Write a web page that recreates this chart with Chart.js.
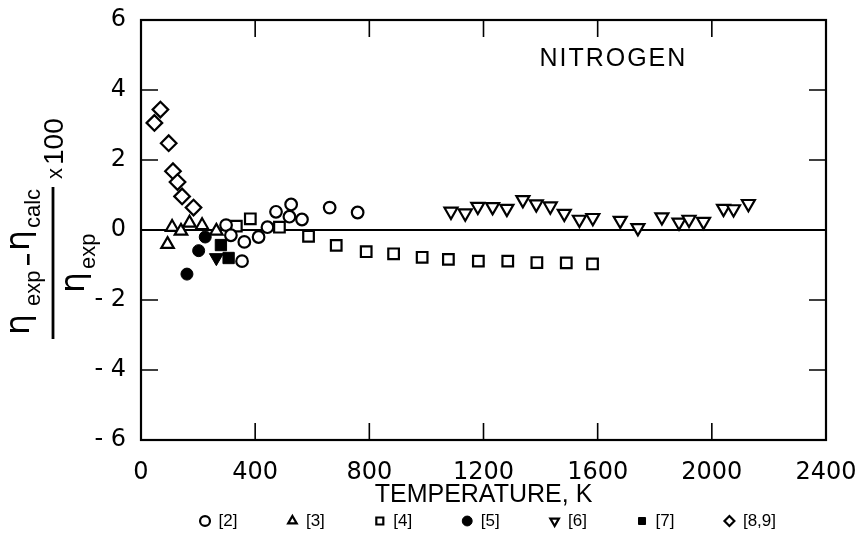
<!DOCTYPE html>
<html><head><meta charset="utf-8">
<script src="https://cdn.jsdelivr.net/npm/chart.js@4.4.0/dist/chart.umd.min.js"></script>
<style>html,body{margin:0;padding:0;background:#fff;} #wrap{width:859px;height:546px;}</style>
</head><body><div id="wrap"><canvas id="c" width="859" height="546"></canvas></div>
<script>
// ---- data ----
const xTicks = [0, 400, 800, 1200, 1600, 2000, 2400];
const xTickLabels = ['0', '400', '800', '1200', '1600', '2000', '2400'];
const yTicks = [-6, -4, -2, 0, 2, 4, 6];
const yTickLabels = ['- 6', '- 4', '- 2', '0', '2', '4', '6'];
const xTitle = 'TEMPERATURE, K';
const gasName = 'NITROGEN';
const seriesLabels = ['[2]', '[3]', '[4]', '[5]', '[6]', '[7]', '[8,9]'];

const ref2T = [298, 315, 354, 362, 412, 443, 473, 520, 526, 564, 661, 759];
const ref2D = [0.14, -0.15, -0.89, -0.34, -0.20, 0.08, 0.52, 0.38, 0.73, 0.30, 0.64, 0.50];

const ref3T = [93, 109, 140, 170, 214, 264];
const ref3D = [-0.41, 0.08, -0.03, 0.20, 0.13, -0.03];

const ref4T = [334, 383, 485, 587, 684, 789, 885, 985, 1077, 1182, 1285, 1387, 1490, 1582];
const ref4D = [0.11, 0.32, 0.08, -0.18, -0.44, -0.62, -0.68, -0.78, -0.84, -0.89, -0.89, -0.93, -0.94, -0.97];

const ref5T = [161, 202, 225];
const ref5D = [-1.26, -0.59, -0.20];

const ref6T = [1086, 1136, 1180, 1232, 1282, 1338, 1385, 1434, 1483, 1536, 1583, 1679, 1741, 1825, 1885, 1920, 1971, 2041, 2076, 2128];
const ref6D = [0.53, 0.48, 0.67, 0.66, 0.61, 0.86, 0.74, 0.68, 0.47, 0.30, 0.35, 0.27, 0.06, 0.37, 0.22, 0.30, 0.24, 0.61, 0.60, 0.75];

const ref7T = [280, 307, 264];
const ref7D = [-0.43, -0.80, -0.79];
const ref7Marks = ['rect', 'rect', 'triangle'];
const ref7Rot = [0, 0, 180];

const ref89T = [47, 68, 97, 112, 128, 144, 184];
const ref89D = [3.06, 3.44, 2.48, 1.68, 1.37, 0.96, 0.64];

const pts = (xs, ys) => xs.map((x, i) => ({ x: x, y: ys[i] }));

const frame = {
  id: 'frame',
  afterLayout(c) {
    // place the legend row under the axis title
    if (c.legend) { c.legend.top = 462.5; c.legend.bottom = 546; }
  },
  beforeDraw(c) {
    const ctx = c.ctx; ctx.save(); ctx.fillStyle = '#fff'; ctx.fillRect(0, 0, c.width, c.height); ctx.restore();
  },
  beforeDatasetsDraw(c) {
    const ctx = c.ctx, a = c.chartArea, ys = c.scales.y;
    const y0 = ys.getPixelForValue(0);
    ctx.save(); ctx.strokeStyle = '#000'; ctx.lineWidth = 1.8;
    ctx.beginPath(); ctx.moveTo(a.left, y0); ctx.lineTo(a.right, y0); ctx.stroke(); ctx.restore();
  },
  afterDatasetsDraw(c) {
    const ctx = c.ctx, a = c.chartArea, xs = c.scales.x, ys = c.scales.y;
    ctx.save();
    ctx.strokeStyle = '#000'; ctx.lineWidth = 2.2;
    ctx.strokeRect(a.left, a.top, a.right - a.left, a.bottom - a.top);
    ctx.lineWidth = 1.6;
    const L = 17;
    ctx.beginPath();
    xTicks.slice(1, -1).forEach(v => {
      const px = xs.getPixelForValue(v);
      ctx.moveTo(px, a.bottom); ctx.lineTo(px, a.bottom - L);
      ctx.moveTo(px, a.top); ctx.lineTo(px, a.top + L);
    });
    yTicks.slice(1, -1).forEach(v => {
      const py = ys.getPixelForValue(v);
      ctx.moveTo(a.left, py); ctx.lineTo(a.left + L, py);
      ctx.moveTo(a.right, py); ctx.lineTo(a.right - L, py);
    });
    ctx.stroke();
    // gas name
    ctx.fillStyle = '#000';
    ctx.font = '25px "Liberation Sans"';
    if ('letterSpacing' in ctx) ctx.letterSpacing = '2px';
    ctx.textAlign = 'center'; ctx.textBaseline = 'middle';
    ctx.fillText(gasName, xs.getPixelForValue(1655), ys.getPixelForValue(4.88));
    if ('letterSpacing' in ctx) ctx.letterSpacing = '0px';
    ctx.restore();

    // y-axis title (fraction), rotated
    ctx.save();
    ctx.translate(53, 265);
    ctx.rotate(-Math.PI / 2);
    ctx.fillStyle = '#000';
    ctx.textAlign = 'left'; ctx.textBaseline = 'alphabetic';
    const big = '33px "DejaVu Sans"', small = '22px "Liberation Sans"';
    // numerator
    ctx.font = big; ctx.fillText('\u03B7', -70, -24);
    ctx.font = small; ctx.fillText('exp', -41, -13);
    ctx.fillRect(0, -26, 11, 2.6);
    ctx.font = big; ctx.fillText('\u03B7', 14, -24);
    ctx.font = small; ctx.fillText('calc', 37, -13);
    // bar
    ctx.fillRect(-74, -1.4, 152, 2.8);
    // denominator
    ctx.font = big; ctx.fillText('\u03B7', -28, 31);
    ctx.font = small; ctx.fillText('exp', -4, 42);
    // x 100
    ctx.font = '22px "Liberation Sans"'; ctx.fillText('x', 86, 9);
    ctx.font = '28px "Liberation Sans"'; ctx.fillText('100', 100, 10);
    ctx.restore();
  }
};

const openStyle = { borderColor: '#000', backgroundColor: '#fff', borderWidth: 2.2 };
const fillStyle = { borderColor: '#000', backgroundColor: '#000', borderWidth: 1 };

new Chart(document.getElementById('c'), {
  type: 'scatter',
  data: {
    datasets: [
      Object.assign({ label: seriesLabels[0], data: pts(ref2T, ref2D), pointStyle: 'circle', pointRadius: 5.8 }, openStyle),
      Object.assign({ label: seriesLabels[1], data: pts(ref3T, ref3D), pointStyle: 'triangle', pointRadius: 7.2 }, openStyle),
      Object.assign({ label: seriesLabels[2], data: pts(ref4T, ref4D), pointStyle: 'rect', pointRadius: 7.5 }, openStyle),
      Object.assign({ label: seriesLabels[3], data: pts(ref5T, ref5D), pointStyle: 'circle', pointRadius: 6 }, fillStyle),
      Object.assign({ label: seriesLabels[4], data: pts(ref6T, ref6D), pointStyle: 'triangle', pointRotation: 180, pointRadius: 7.5 }, openStyle),
      Object.assign({ label: seriesLabels[5], data: pts(ref7T, ref7D), pointStyle: ref7Marks, pointRotation: ref7Rot, pointRadius: 8 }, fillStyle),
      Object.assign({ label: seriesLabels[6], data: pts(ref89T, ref89D), pointStyle: 'rectRot', pointRadius: 7.8 }, openStyle)
    ]
  },
  options: {
    responsive: false,
    animation: false,
    events: [],
    layout: { padding: { left: 0, right: 33, top: 20, bottom: 26 } },
    plugins: {
      tooltip: { enabled: false },
      legend: {
        position: 'bottom',
        align: 'end',
        maxHeight: 40,
        labels: {
          usePointStyle: true, boxHeight: 7, boxWidth: 10, padding: 50,
          color: '#000', font: { family: 'Liberation Sans', size: 17 }
        }
      }
    },
    scales: {
      x: {
        type: 'linear', min: 0, max: 2400,
        afterBuildTicks(s) { s.ticks = xTicks.map(v => ({ value: v })); },
        ticks: { callback: v => xTickLabels[xTicks.indexOf(v)], color: '#000', font: { family: 'DejaVu Sans', size: 24 }, padding: 10, maxRotation: 0, autoSkip: false },
        grid: { display: false }, border: { display: false },
        title: { display: true, text: xTitle, color: '#000', font: { family: 'Liberation Sans', size: 25 }, padding: { top: 0, bottom: -30 } },
        afterFit(s) { s.height = 40; s.paddingLeft = 0; s.paddingRight = 0; }
      },
      y: {
        type: 'linear', min: -6, max: 6,
        afterBuildTicks(s) { s.ticks = yTicks.map(v => ({ value: v })); },
        ticks: { callback: v => yTickLabels[yTicks.indexOf(v)], color: '#000', font: { family: 'DejaVu Sans', size: 24 }, padding: 7, autoSkip: false },
        grid: { display: false }, border: { display: false },
        afterFit(s) { s.width = 141; s.paddingTop = 0; s.paddingBottom = 0; }
      }
    }
  },
  plugins: [frame]
});
</script></body></html>
